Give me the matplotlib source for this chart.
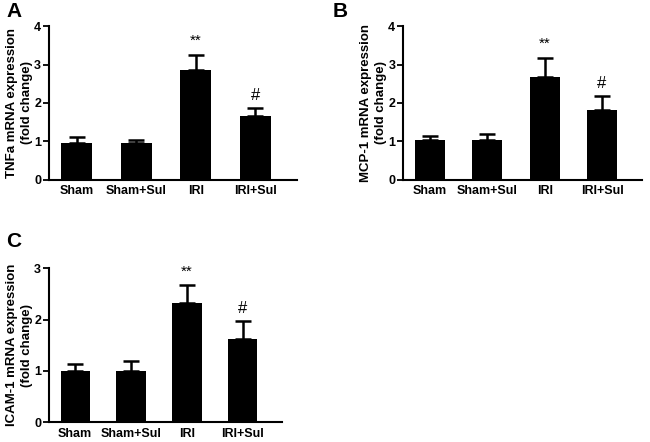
import matplotlib
matplotlib.use("Agg")
import matplotlib.pyplot as plt

# Data
groups = ['Sham', 'Sham+Sul', 'IRI', 'IRI+Sul']
tnfa_mean = [0.95, 0.95, 2.87, 1.65]
tnfa_err = [0.17, 0.09, 0.39, 0.23]
mcp1_mean = [1.04, 1.04, 2.68, 1.82]
mcp1_err = [0.10, 0.15, 0.50, 0.36]
icam1_mean = [1.00, 1.00, 2.32, 1.62]
icam1_err = [0.13, 0.19, 0.35, 0.35]
marks = ['', '', '**', '#']

plt.rcParams['font.family'] = ['Liberation Sans', 'DejaVu Sans']
plt.rcParams['font.weight'] = 'bold'

fig = plt.figure(figsize=(6.5, 4.42), dpi=100)


def panel(rect, means, errs, ylabel, ymax, letter, letter_xy):
    ax = fig.add_axes(rect)
    x = range(len(groups))
    ax.bar(x, means, width=0.52, color='black')
    ax.errorbar(x, means, yerr=[[0] * len(errs), errs], fmt='none',
                ecolor='black', elinewidth=1.8, capsize=6, capthick=1.8)
    for i, (m, e, s) in enumerate(zip(means, errs, marks)):
        if s:
            off = 0.13 * ymax / 4 if s == '#' else 0.17 * ymax / 4
            ax.text(i, m + e + off, s, ha='center', va='bottom',
                    fontsize=12 if s == '#' else 11, fontweight='normal')
    ax.set_xlim(-0.47, 3.7)
    ax.set_ylim(0, ymax)
    ax.set_yticks(range(ymax + 1))
    ax.set_xticks(list(x))
    ax.set_xticklabels(groups, fontsize=9, fontweight='bold')
    ax.tick_params(axis='y', labelsize=9, width=1.3, length=4, pad=1.5)
    ax.tick_params(axis='x', length=0, pad=4)
    for lab in ax.get_yticklabels():
        lab.set_fontweight('bold')
    ax.spines['top'].set_visible(False)
    ax.spines['right'].set_visible(False)
    ax.spines['left'].set_linewidth(1.5)
    ax.spines['bottom'].set_linewidth(1.5)
    ax.set_ylabel(ylabel, fontsize=9.5, fontweight='bold', labelpad=1,
                  linespacing=1.3)
    fig.text(letter_xy[0], letter_xy[1], letter, fontsize=15,
             fontweight='bold', ha='left', va='top')
    return ax


panel([0.075, 0.593, 0.382, 0.348], tnfa_mean, tnfa_err,
      'TNFa mRNA expression\n(fold change)', 4, 'A', (0.010, 0.995))
panel([0.620, 0.593, 0.368, 0.348], mcp1_mean, mcp1_err,
      'MCP-1 mRNA expression\n(fold change)', 4, 'B', (0.512, 0.995))
panel([0.075, 0.045, 0.359, 0.348], icam1_mean, icam1_err,
      'ICAM-1 mRNA expression\n(fold change)', 3, 'C', (0.010, 0.475))

fig.savefig('out.png', dpi=100)
